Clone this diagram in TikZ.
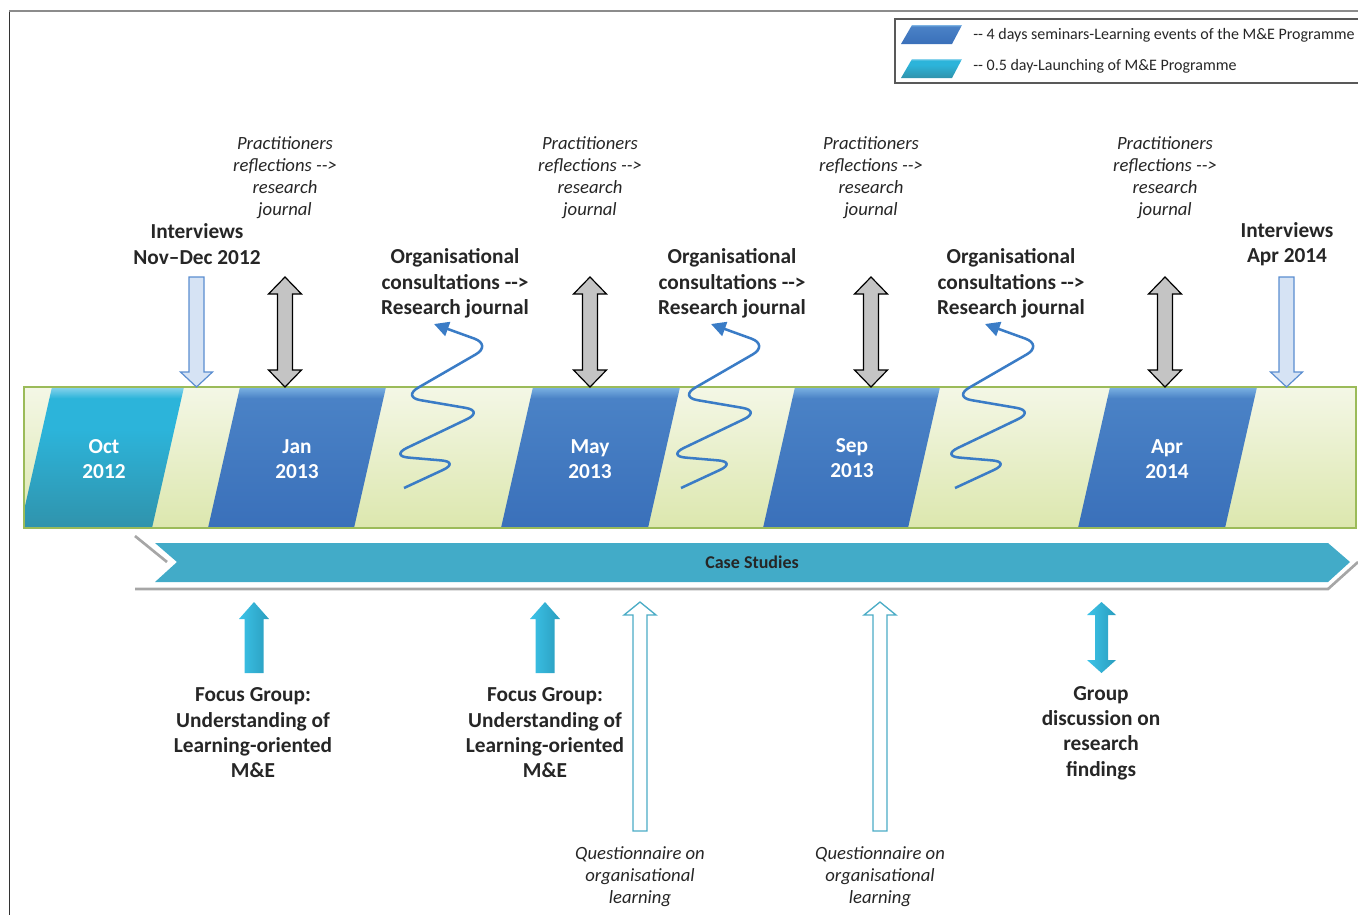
\documentclass[tikz,border=0pt]{standalone}
\usepackage{fontspec}
\setmainfont{Carlito}[Ligatures=TeXOff]
\usetikzlibrary{arrows.meta}
\definecolor{txt}{HTML}{262626}
\definecolor{bbot}{HTML}{3A70BA}
\definecolor{bmid}{HTML}{4A82C6}
\definecolor{blight}{HTML}{7DB3E3}
\definecolor{cbot}{HTML}{3093AC}
\definecolor{cmid}{HTML}{2CB4DA}
\definecolor{clight}{HTML}{8AD3EC}
\definecolor{bandtop}{HTML}{F4F7E6}
\definecolor{bandbot}{HTML}{DCE7AE}
\definecolor{bandline}{HTML}{9BBB59}
\definecolor{chev}{HTML}{42ABC8}
\definecolor{shadowgray}{HTML}{A6A6A6}
\definecolor{grayfill}{HTML}{C4C4C4}
\definecolor{lbfill}{HTML}{D6E3F4}
\definecolor{lbline}{HTML}{5A8DD0}
\definecolor{cyl}{HTML}{3CC3E8}
\definecolor{cyr}{HTML}{2A9DBE}
\definecolor{hollowline}{HTML}{4BACC6}
\definecolor{squigblue}{HTML}{3A7CC6}
\pgfdeclareverticalshading{blush}{100bp}{color(0bp)=(bbot); color(25bp)=(bbot); color(71bp)=(bmid); color(75bp)=(blight); color(100bp)=(blight)}
\pgfdeclareverticalshading{cysh}{100bp}{color(0bp)=(cbot); color(25bp)=(cbot); color(60bp)=(cmid); color(71bp)=(cmid); color(75bp)=(clight); color(100bp)=(clight)}
\newcommand{\DnArr}[7]{\path[#1] (#2-#5,#3) -- (#2+#5,#3) -- (#2+#5,#4-#7) -- (#2+#6,#4-#7) -- (#2,#4) -- (#2-#6,#4-#7) -- (#2-#5,#4-#7) -- cycle;}
\newcommand{\UpArr}[7]{\path[#1] (#2,#3) -- (#2+#6,#3+#7) -- (#2+#5,#3+#7) -- (#2+#5,#4) -- (#2-#5,#4) -- (#2-#5,#3+#7) -- (#2-#6,#3+#7) -- cycle;}
\newcommand{\DblArr}[7]{\path[#1] (#2,#3) -- (#2+#6,#3+#7) -- (#2+#5,#3+#7) -- (#2+#5,#4-#7) -- (#2+#6,#4-#7) -- (#2,#4) -- (#2-#6,#4-#7) -- (#2-#5,#4-#7) -- (#2-#5,#3+#7) -- (#2-#6,#3+#7) -- cycle;}
\newcommand{\Para}[3]{\path[#1] (#2,528) -- (#2+#3,528) -- (#2+#3+32,387) -- (#2+32,387) -- cycle;}
\begin{document}
\begin{tikzpicture}[x=0.75pt,y=-0.75pt,
  boldlbl/.style={align=center, text=txt, font=\fontsize{16}{19}\selectfont\bfseries, inner sep=0pt},
  itlbl/.style={align=center, text=txt, font=\fontsize{14}{16.5}\selectfont\itshape, inner sep=0pt},
  datelbl/.style={boldlbl, text=white},
  leglbl/.style={anchor=west, text=txt, font=\fontsize{12}{13}\selectfont, inner sep=0pt},
  squig/.style={draw=squigblue, line width=1.9pt, rounded corners=14pt, -{Triangle[length=11pt,width=11pt]}},
  grayarr/.style={fill=grayfill, draw=black, line width=0.9pt},
  lbarr/.style={fill=lbfill, draw=lbline, line width=0.9pt},
  cyarr/.style={left color=cyl, right color=cyr},
  hollowarr/.style={fill=white, draw=hollowline, line width=1pt},
]
\useasboundingbox (0,0) rectangle (1358,915);
% frame
\draw[color=black!80, line width=0.8pt] (9.5,11) -- (9.5,915);
\draw[color=black!45, line width=1.2pt] (9,11) -- (1358,11);
% legend
\draw[color=black!65, line width=0.8pt] (895,19) rectangle (1372,83);
\path[shading=blush] (901,44) -- (952,44) -- (962,25) -- (912,25) -- cycle;
\path[shading=cysh] (901,78) -- (952,78) -- (962,59) -- (912,59) -- cycle;
\node[leglbl] (leg1) at (973,35.5) {-- 4 days seminars-Learning events of the M\&E Programme};
\node[leglbl] (leg2) at (973,66.5) {-- 0.5 day-Launching of M\&E Programme};
% band
\shade[top color=bandtop, bottom color=bandbot] (24,387) rectangle (1356,528);
\begin{scope}
\clip (24,387) rectangle (1356,528);
\Para{shading=cysh}{20}{132}
\end{scope}
\Para{shading=blush}{208}{146}
\Para{shading=blush}{501}{147}
\Para{shading=blush}{763}{145}
\Para{shading=blush}{1078}{147}
\draw[draw=bandline, line width=2.2pt] (24,387) rectangle (1356,528);
\node[datelbl] (oct) at (104,459) {Oct\\2012};
\node[datelbl] (jan) at (297,459) {Jan\\2013};
\node[datelbl] (may) at (590,459) {May\\2013};
\node[datelbl] (sep) at (852,458) {Sep\\2013};
\node[datelbl] (apr) at (1167,459) {Apr\\2014};
% squiggles
\foreach \s in {0,277,551}{
\begin{scope}[shift={(\s,0)}]
\draw[squig] (404,488) -- ++(56,-26) -- ++(-70,-6) -- ++(94,-45) -- ++(-82,-14) -- ++(90,-52) -- ++(-58,-21);
\end{scope}}
% top arrows
\foreach \xx in {285,590,871,1165}{\DblArr{grayarr}{\xx}{277}{387}{7.5}{16.5}{17}}
\DnArr{lbarr}{196.5}{277}{387}{7.5}{16}{15}
\DnArr{lbarr}{1286.5}{277}{387}{7.5}{16}{15}
% case studies
\draw[draw=shadowgray, line width=2pt] (135,536) -- (167,562);
\draw[draw=shadowgray, line width=2pt] (135,589) -- (1328,589) -- (1358,562);
\path[fill=chev] (155,543) -- (1328,543) -- (1350,562) -- (1328,582) -- (155,582) -- (177,562) -- cycle;
\node[text=txt, font=\fontsize{13.5}{15}\selectfont\bfseries, inner sep=0pt] (case) at (752,562) {Case Studies};
% bottom arrows
\UpArr{cyarr}{254}{602}{673}{9.5}{15}{17}
\UpArr{cyarr}{545}{602}{673}{9.5}{15}{17}
\UpArr{hollowarr}{640}{602}{831}{7}{16}{13}
\UpArr{hollowarr}{880}{602}{831}{7}{16}{13}
\DblArr{cyarr}{1101.5}{602}{673}{6.5}{14.5}{13}
% top labels
\node[itlbl] (pr1) at (285,177.5) {Practitioners\\reflections -->\\research\\journal};
\node[itlbl] (pr2) at (590,177.5) {Practitioners\\reflections -->\\research\\journal};
\node[itlbl] (pr3) at (871,177.5) {Practitioners\\reflections -->\\research\\journal};
\node[itlbl] (pr4) at (1165,177.5) {Practitioners\\reflections -->\\research\\journal};
\node[boldlbl] (int1) at (197,244) {Interviews\\Nov–Dec 2012};
\node[boldlbl] (int2) at (1287,244) {Interviews\\Apr 2014};
\node[boldlbl] (org1) at (455,283.5) {Organisational\\consultations -->\\Research journal};
\node[boldlbl] (org2) at (732,283.5) {Organisational\\consultations -->\\Research journal};
\node[boldlbl] (org3) at (1011,283.5) {Organisational\\consultations -->\\Research journal};
% bottom labels
\node[boldlbl] (fg1) at (253,733) {Focus Group:\\Understanding of\\Learning-oriented\\M\&E};
\node[boldlbl] (fg2) at (545,733) {Focus Group:\\Understanding of\\Learning-oriented\\M\&E};
\node[boldlbl] (grp) at (1101,733) {Group\\discussion on\\research\\findings};
\node[itlbl] (q1) at (640,876.5) {Questionnaire on\\organisational\\learning};
\node[itlbl] (q2) at (880,876.5) {Questionnaire on\\organisational\\learning};
\end{tikzpicture}
\end{document}
